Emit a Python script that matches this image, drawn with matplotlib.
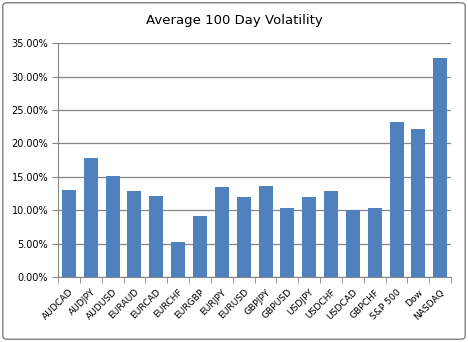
import matplotlib.pyplot as plt
import numpy as np
from matplotlib.patches import FancyBboxPatch

symbols = ['AUDCAD', 'AUDJPY', 'AUDUSD', 'EURAUD', 'EURCAD', 'EURCHF', 'EURGBP',
           'EURJPY', 'EURUSD', 'GBPJPY', 'GBPUSD', 'USDJPY', 'USDCHF', 'USDCAD',
           'GBPCHF', 'S&P 500', 'Dow', 'NASDAQ']
volatility = [13.0, 17.8, 15.1, 12.9, 12.1, 5.25, 9.1, 13.4, 11.9, 13.6, 10.4,
              11.9, 12.9, 10.0, 10.3, 23.2, 22.1, 32.75]
yticks = [0, 5, 10, 15, 20, 25, 30, 35]

fig = plt.figure(figsize=(4.68, 3.42), dpi=100)
ax = fig.add_axes([0.124, 0.190, 0.840, 0.684])

# chart border
fig.patches.append(FancyBboxPatch((0.006, 0.008), 0.988, 0.984,
                                  boxstyle='round,pad=0,rounding_size=0.01',
                                  transform=fig.transFigure, fill=False,
                                  edgecolor='#808080', linewidth=1.0))

x = np.arange(len(symbols))
ax.bar(x, volatility, width=0.64, color='#4F81BD', zorder=3)

ax.set_xlim(-0.5, len(symbols) - 0.5)
ax.set_ylim(0, 35)
ax.set_yticks(yticks)
ax.set_yticklabels([f'{v:.2f}%' for v in yticks], fontsize=7)
ax.yaxis.grid(True, color='#868686', linewidth=0.9, zorder=0)

ax.set_xticks(x)
ax.set_xticklabels(symbols, rotation=45, ha='right', rotation_mode='anchor', fontsize=6.6)
ax.tick_params(axis='x', length=0, pad=7.5)
ax.set_xticks(np.arange(-0.5, len(symbols)), minor=True)
ax.tick_params(axis='x', which='minor', length=4, color='#868686')
ax.tick_params(axis='y', length=4, color='#868686', pad=3)

for side in ['top', 'right']:
    ax.spines[side].set_visible(False)
for side in ['left', 'bottom']:
    ax.spines[side].set_color('#868686')

fig.text(0.5, 0.94, 'Average 100 Day Volatility', ha='center', va='center', fontsize=9.5)

fig.savefig('out.png', dpi=100)
